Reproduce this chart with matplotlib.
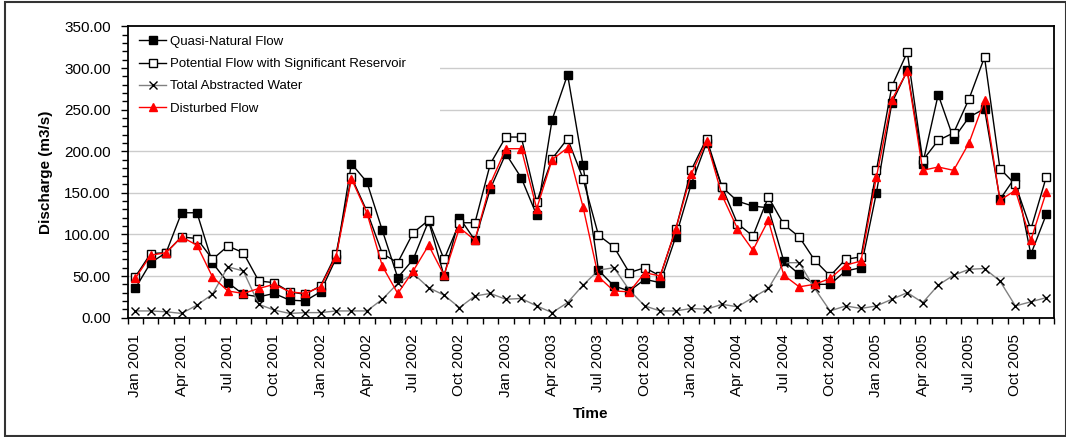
import numpy as np
import matplotlib
matplotlib.use('Agg')
import matplotlib.pyplot as plt
import matplotlib.patches as mpatches
from matplotlib.ticker import MultipleLocator, FormatStrFormatter

plt.rcParams['font.family'] = ['Liberation Sans', 'DejaVu Sans']

# monthly values Jan 2001 - Dec 2005
quasi_natural = [35, 66, 78, 126, 126, 66, 42, 28, 25, 29, 21, 20,
                 31, 71, 185, 163, 105, 48, 70, 116, 50, 120, 93, 155,
                 197, 168, 123, 238, 292, 183, 57, 38, 32, 46, 42, 97,
                 160, 210, 157, 140, 134, 132, 68, 52, 40, 40, 56, 60,
                 150, 258, 297, 185, 268, 215, 241, 251, 142, 169, 76, 124]
potential = [49, 77, 78, 97, 95, 70, 86, 78, 44, 42, 31, 28,
             38, 76, 169, 128, 77, 66, 102, 117, 70, 114, 114, 185,
             217, 217, 139, 191, 215, 167, 99, 85, 54, 60, 50, 106,
             177, 215, 157, 113, 98, 145, 112, 97, 69, 50, 70, 73,
             177, 278, 319, 189, 213, 222, 263, 313, 179, 160, 106, 169]
abstracted = [8, 8, 7, 5, 15, 28, 61, 56, 16, 9, 5, 6,
              6, 8, 8, 8, 22, 41, 53, 36, 27, 12, 26, 29,
              22, 23, 14, 6, 18, 39, 57, 60, 33, 14, 8, 8,
              11, 10, 16, 13, 24, 35, 66, 66, 35, 8, 14, 11,
              14, 22, 30, 18, 39, 51, 58, 59, 44, 14, 19, 24]
disturbed = [47, 75, 78, 97, 87, 49, 32, 29, 35, 40, 31, 29,
             37, 73, 167, 126, 62, 29, 56, 87, 51, 108, 93, 161,
             203, 203, 131, 190, 204, 133, 49, 32, 31, 54, 50, 106,
             172, 212, 147, 107, 81, 117, 51, 37, 40, 47, 63, 68,
             169, 262, 296, 177, 181, 177, 210, 261, 141, 153, 93, 151]

months = ['Jan', 'Feb', 'Mar', 'Apr', 'May', 'Jun',
          'Jul', 'Aug', 'Sep', 'Oct', 'Nov', 'Dec']
years = [2001, 2002, 2003, 2004, 2005]
month_labels = [f'{m} {y}' for y in years for m in months]

x = np.arange(len(quasi_natural))

fig = plt.figure(figsize=(10.66, 4.37), dpi=100, facecolor='white')
ax = fig.add_axes([127.5 / 1066, 1 - 317.6 / 437, 926.5 / 1066, 291.2 / 437])

ax.plot(x, quasi_natural, color='black', lw=1.0, marker='s', ms=5.3,
        mfc='black', mec='black', label='Quasi-Natural Flow', zorder=3)
ax.plot(x, potential, color='black', lw=1.0, marker='s', ms=5.3,
        mfc='white', mec='black', mew=1.0,
        label='Potential Flow with Significant Reservoir', zorder=4)
ax.plot(x, abstracted, color='#808080', lw=1.0, marker='x', ms=5.5,
        mec='black', mew=1.0, label='Total Abstracted Water', zorder=3)
ax.plot(x, disturbed, color='#ff0000', lw=1.0, marker='^', ms=5.8,
        mfc='#ff0000', mec='#ff0000', label='Disturbed Flow', zorder=5)

ax.set_xlim(-0.5, len(x) - 0.5)
ax.set_ylim(0, 350)

# y axis
ax.yaxis.set_major_locator(MultipleLocator(50))
ax.yaxis.set_minor_locator(MultipleLocator(10))
ax.yaxis.set_major_formatter(FormatStrFormatter('%.2f'))
ax.tick_params(axis='y', which='major', direction='out', length=5, width=1,
               labelsize=11, pad=7)
ax.tick_params(axis='y', which='minor', direction='out', length=4, width=1)
ax.grid(axis='y', which='major', color='#cccccc', lw=1.0)
ax.set_axisbelow(True)

# x axis: labels every quarter, ticks between months
ax.set_xticks(x[::3])
ax.set_xticklabels(month_labels[::3], rotation=90)
ax.set_xticks(np.arange(-0.5, len(x), 1.0), minor=True)
ax.tick_params(axis='x', which='major', length=0, labelsize=11, pad=12)
ax.tick_params(axis='x', which='minor', direction='out', length=4, width=1)

for s in ax.spines.values():
    s.set_linewidth(1.3)
    s.set_color('black')

ax.set_ylabel('Discharge (m3/s)', fontsize=11, fontweight='bold', labelpad=8)
ax.set_xlabel('Time', fontsize=11, fontweight='bold', labelpad=7)

# white legend area hides gridlines
ax.add_patch(mpatches.Rectangle((0, 0.651), 0.337, 0.349, transform=ax.transAxes,
                                facecolor='white', edgecolor='none', zorder=1))
ax.legend(loc='upper left', bbox_to_anchor=(0.0127, 0.968), frameon=False,
          fontsize=9.5, borderaxespad=0, borderpad=0, handlelength=2.05,
          handletextpad=0.25, labelspacing=0.76)

# outer frame
fig.add_artist(mpatches.Rectangle((5 / 1066, 1.5 / 437), 1060.5 / 1066, 434 / 437,
                                  transform=fig.transFigure, fill=False,
                                  edgecolor='#333333', lw=1.5))

fig.savefig('out.png', dpi=100, facecolor='white')
